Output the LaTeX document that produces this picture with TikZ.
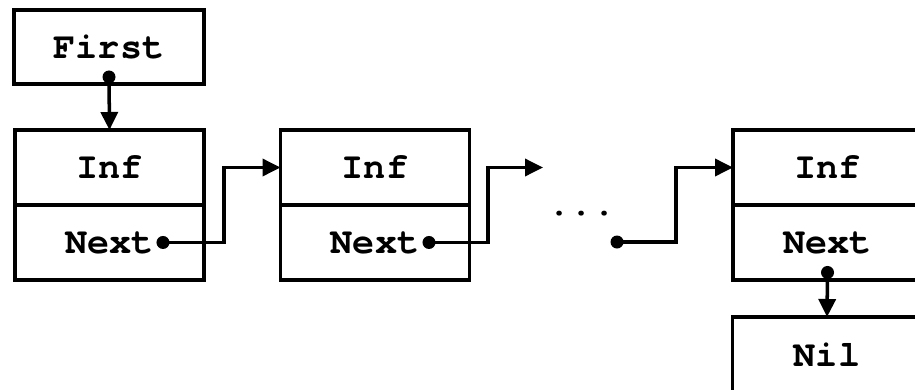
\documentclass[tikz,border=0pt]{standalone}
\usepackage{fontspec}
\newfontfamily\cellfont{TeX Gyre Cursor}
\usetikzlibrary{positioning,arrows.meta}
\newcommand{\linkDot}[1]{%
  \fill[dotStyle] (#1) circle[radius=0.13cm];
}

\begin{document}
\begin{tikzpicture}[%
  x=0.02cm,y=-0.02cm,line width=2pt,%
  cellStyle/.style={draw,outer sep=0pt,minimum width=3.78cm,minimum height=1.5cm,%
    font=\cellfont\bfseries\fontsize{21}{25}\selectfont},%
  linkStyle/.style={-{Triangle[length=0.36cm,width=0.34cm]}},%
  dotStyle/.style={fill=black}%
]
%
\useasboundingbox (0,0) rectangle (915,389);
%
% The head of the list.
\node[cellStyle,minimum width=3.8cm,minimum height=1.48cm] (first) at (109,47) {First};
% The list cells.
\node[cellStyle] (infA) at (109.5,167.5) {Inf};
\node[cellStyle,below=0pt of infA] (nextA) {Next};
\node[cellStyle] (infB) at (375,167.5) {Inf};
\node[cellStyle,below=0pt of infB] (nextB) {Next};
\node[cellStyle] (infC) at (827.5,167.5) {Inf};
\node[cellStyle,below=0pt of infC] (nextC) {Next};
% The end of the list.
\node[cellStyle] (nil) at (827,354.5) {Nil};
% The gap.
\node[font=\cellfont\bfseries\fontsize{21}{25}\selectfont,inner sep=0pt] (gap) at (582,214) {...};
%
% Points where the links start.
\coordinate (pfirst) at ([yshift=0.14cm]first.south);
\coordinate (pA) at ([xshift=1.07cm]nextA.center);
\coordinate (pB) at ([xshift=1.08cm]nextB.center);
\coordinate (pgap) at (617,242);
\coordinate (pC) at ([yshift=0.15cm]nextC.south);
\coordinate (gapIn) at (543,167.5);
%
% The links.
\draw[linkStyle] (pfirst) -- (infA.north);
\draw[linkStyle] (pA) -- ++(61,0) |- (infB.west);
\draw[linkStyle] (pB) -- ++(59,0) |- (gapIn);
\draw[linkStyle] (pgap) -- ++(59,0) |- (infC.west);
\draw[linkStyle] (pC) -- (nil.north);
%
\linkDot{pfirst}
\linkDot{pA}
\linkDot{pB}
\linkDot{pgap}
\linkDot{pC}
\end{tikzpicture}
\end{document}
